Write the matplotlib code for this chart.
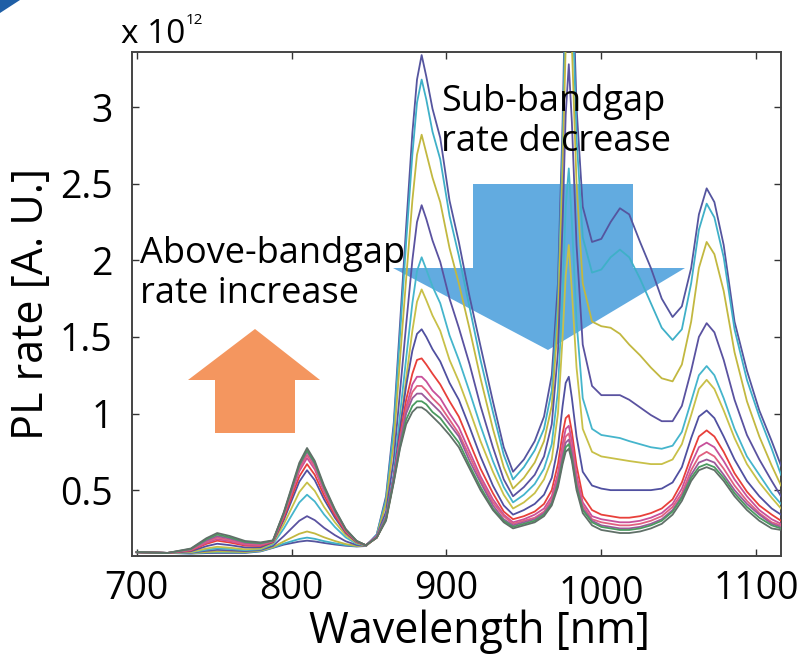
import matplotlib
matplotlib.use("Agg")
import matplotlib.pyplot as plt
from matplotlib.patches import Polygon
from matplotlib.transforms import ScaledTranslation

plt.rcParams['font.family'] = ['Open Sans', 'DejaVu Sans']

# wavelength grid [nm]
wl = [700, 720, 735, 745, 752, 760, 770, 780, 788, 795, 800, 805, 810, 815, 821, 828, 835, 842, 848,
      855, 861, 866, 870, 874, 878, 881, 884, 887, 891, 896, 902, 908, 915, 922, 930, 937, 943,
      950, 957, 963, 968, 972, 975, 977, 979, 981, 984, 988, 994, 1000,
      1006, 1012, 1018, 1025, 1032, 1039, 1046, 1052, 1058, 1063, 1068, 1073, 1079, 1086, 1094, 1102, 1110, 1116]

# PL spectra, units of 1e12, one row per excitation condition
spectra = [
    [.095, .09, .086, .089, .09, .09, .09, .10, .123, .144, .154, .164, .17, .165, .155, .145, .137, .132, .135,
     .21, .46, .94, 1.58, 2.22, 2.83, 3.18, 3.34, 3.20, 2.99, 2.80, 2.39, 2.12, 1.76, 1.44, 1.08, 0.78, 0.62,
     .70, .82, .98, 1.25, 1.85, 2.9, 3.9, 4.5, 4.0, 3.0, 2.35, 2.12, 2.14,
     2.25, 2.34, 2.30, 2.12, 1.95, 1.75, 1.63, 1.70, 1.95, 2.30, 2.47, 2.38, 2.10, 1.60, 1.28, 1.02, 0.82, 0.66],
    [.095, .09, .087, .093, .095, .094, .093, .102, .125, .151, .166, .181, .19, .182, .167, .153, .141, .134, .135,
     .21, .44, .90, 1.51, 2.12, 2.69, 3.03, 3.18, 3.05, 2.84, 2.66, 2.29, 2.03, 1.69, 1.35, 1.01, 0.73, 0.57,
     .65, .76, .90, 1.15, 1.72, 2.75, 3.7, 4.3, 3.8, 2.8, 2.15, 1.92, 1.94,
     2.02, 2.07, 2.02, 1.88, 1.72, 1.56, 1.48, 1.55, 1.85, 2.20, 2.37, 2.28, 2.02, 1.55, 1.22, 0.98, 0.77, 0.60],
    [.095, .09, .089, .096, .10, .099, .096, .105, .128, .165, .19, .215, .23, .217, .192, .168, .148, .136, .135,
     .20, .41, .81, 1.35, 1.88, 2.39, 2.69, 2.82, 2.70, 2.54, 2.38, 2.08, 1.85, 1.55, 1.23, 0.90, 0.65, 0.51,
     .58, .68, .82, 1.05, 1.6, 2.6, 3.4, 3.9, 3.4, 2.5, 1.85, 1.60, 1.57,
     1.56, 1.52, 1.45, 1.38, 1.30, 1.23, 1.21, 1.32, 1.60, 1.95, 2.12, 2.04, 1.80, 1.40, 1.08, 0.85, 0.66, 0.53],
    [.095, .09, .091, .104, .11, .107, .102, .109, .136, .20, .25, .30, .33, .304, .254, .206, .166, .142, .135,
     .20, .36, .70, 1.14, 1.58, 2.00, 2.25, 2.36, 2.27, 2.13, 1.99, 1.75, 1.56, 1.32, 1.05, 0.78, 0.57, 0.46,
     .52, .60, .72, .93, 1.4, 2.25, 2.95, 3.28, 2.9, 2.1, 1.45, 1.18, 1.12,
     1.12, 1.12, 1.09, 1.04, 0.99, 0.95, 0.95, 1.05, 1.28, 1.50, 1.59, 1.53, 1.35, 1.09, 0.86, 0.70, 0.56, 0.46],
    [.095, .09, .094, .111, .12, .116, .108, .114, .147, .249, .334, .419, .47, .426, .341, .259, .191, .15, .138,
     .20, .33, .61, .99, 1.36, 1.72, 1.93, 2.02, 1.94, 1.83, 1.72, 1.51, 1.35, 1.14, 0.92, 0.69, 0.52, 0.42,
     .47, .54, .64, .80, 1.15, 1.8, 2.35, 2.6, 2.25, 1.6, 1.1, 0.90, 0.86,
     0.85, 0.84, 0.82, 0.80, 0.78, 0.77, 0.79, 0.88, 1.08, 1.25, 1.31, 1.25, 1.10, 0.90, 0.72, 0.60, 0.48, 0.41],
    [.095, .09, .096, .119, .13, .124, .114, .118, .154, .277, .382, .487, .55, .495, .39, .29, .206, .155, .138,
     .19, .31, .56, .90, 1.23, 1.54, 1.73, 1.81, 1.74, 1.64, 1.54, 1.35, 1.21, 1.02, 0.82, 0.62, 0.47, 0.38,
     .42, .48, .57, .70, 1.0, 1.5, 1.9, 2.1, 1.8, 1.3, 0.9, 0.75, 0.72,
     0.71, 0.70, 0.69, 0.68, 0.67, 0.67, 0.70, 0.80, 0.99, 1.16, 1.22, 1.16, 1.02, 0.84, 0.67, 0.55, 0.45, 0.38],
    [.095, .09, .101, .134, .15, .141, .126, .127, .16, .305, .43, .555, .63, .565, .44, .32, .22, .16, .14,
     .20, .32, .59, .90, 1.18, 1.41, 1.52, 1.55, 1.50, 1.42, 1.34, 1.20, 1.09, 0.91, 0.72, 0.53, 0.40, 0.34,
     .37, .41, .47, .58, .78, 1.05, 1.2, 1.24, 1.1, 0.85, 0.62, 0.53, 0.51,
     0.50, 0.50, 0.50, 0.50, 0.50, 0.51, 0.55, 0.65, 0.84, 0.98, 1.02, 0.97, 0.85, 0.70, 0.56, 0.46, 0.38, 0.34],
    [.095, .09, .106, .149, .17, .158, .138, .136, .163, .319, .454, .589, .67, .60, .465, .335, .227, .162, .14,
     .19, .31, .57, .85, 1.09, 1.26, 1.35, 1.36, 1.32, 1.26, 1.19, 1.08, 0.98, 0.81, 0.64, 0.48, 0.36, 0.31,
     .33, .36, .41, .50, .67, .87, .97, .99, .88, .66, .46, .37, .34,
     0.33, 0.32, 0.32, 0.33, 0.35, 0.38, 0.44, 0.55, 0.72, 0.85, 0.89, 0.85, 0.75, 0.61, 0.49, 0.40, 0.34, 0.30],
    [.095, .09, .109, .156, .18, .167, .144, .14, .166, .333, .478, .623, .71, .635, .49, .35, .234, .165, .14,
     .20, .32, .58, .83, 1.04, 1.19, 1.24, 1.24, 1.21, 1.15, 1.10, 1.00, 0.91, 0.75, 0.59, 0.44, 0.34, 0.29,
     .31, .34, .38, .46, .61, .80, .90, .92, .82, .60, .42, .33, .31,
     0.30, 0.29, 0.29, 0.30, 0.32, 0.35, 0.41, 0.51, 0.67, 0.78, 0.81, 0.78, 0.69, 0.57, 0.46, 0.37, 0.31, 0.28],
    [.095, .09, .111, .164, .19, .175, .15, .145, .168, .34, .49, .64, .73, .652, .502, .358, .238, .166, .14,
     .19, .32, .58, .83, 1.02, 1.14, 1.18, 1.18, 1.15, 1.10, 1.05, 0.96, 0.87, 0.72, 0.57, 0.42, 0.33, 0.28,
     .30, .32, .36, .44, .58, .76, .85, .87, .77, .57, .40, .31, .29,
     0.28, 0.27, 0.27, 0.28, 0.30, 0.33, 0.39, 0.48, 0.63, 0.72, 0.75, 0.72, 0.64, 0.53, 0.43, 0.35, 0.29, 0.27],
    [.095, .09, .114, .171, .20, .184, .156, .15, .17, .347, .502, .657, .75, .669, .514, .366, .242, .167, .14,
     .19, .32, .58, .81, 1.00, 1.10, 1.13, 1.13, 1.10, 1.06, 1.01, 0.93, 0.85, 0.69, 0.55, 0.40, 0.31, 0.27,
     .29, .31, .35, .42, .56, .72, .81, .83, .74, .54, .38, .30, .27,
     0.26, 0.25, 0.25, 0.26, 0.28, 0.31, 0.37, 0.46, 0.60, 0.68, 0.70, 0.68, 0.60, 0.50, 0.41, 0.34, 0.28, 0.26],
    [.095, .09, .116, .179, .21, .192, .162, .154, .17, .35, .508, .665, .76, .678, .52, .369, .243, .168, .14,
     .19, .31, .56, .78, .96, 1.05, 1.08, 1.08, 1.06, 1.01, 0.97, 0.89, 0.81, 0.66, 0.52, 0.38, 0.30, 0.26,
     .28, .30, .34, .41, .54, .69, .78, .80, .71, .52, .37, .29, .26,
     0.25, 0.24, 0.24, 0.25, 0.27, 0.30, 0.36, 0.45, 0.58, 0.65, 0.67, 0.65, 0.58, 0.48, 0.39, 0.32, 0.27, 0.25],
    [.095, .09, .119, .186, .22, .201, .168, .159, .172, .356, .517, .678, .775, .691, .53, .375, .246, .169, .14,
     .19, .30, .55, .77, .93, 1.01, 1.04, 1.04, 1.02, 0.98, 0.93, 0.86, 0.78, 0.64, 0.50, 0.37, 0.29, 0.25,
     .27, .29, .33, .40, .52, .67, .75, .77, .69, .50, .35, .27, .24,
     0.23, 0.22, 0.22, 0.23, 0.25, 0.28, 0.34, 0.43, 0.56, 0.63, 0.65, 0.63, 0.56, 0.46, 0.37, 0.30, 0.25, 0.24],
]

colors = ['#55559f', '#3fb0c8', '#c2b840', '#5a52a0', '#45b5cc', '#c8c048', '#5050a0',
          '#e8403a', '#c8509a', '#e06080', '#9a5a9a', '#4a9a60', '#607068']

xticks = [700, 800, 900, 1000, 1100]
yticks = [0.5, 1, 1.5, 2, 2.5, 3]
ytick_labels = ['0.5', '1', '1.5', '2', '2.5', '3']

W, H = 811, 663
fig = plt.figure(figsize=(W / 100, H / 100), dpi=100)
ax = fig.add_axes([132 / W, 1 - 556 / H, (781 - 132) / W, (556 - 52) / H])

for row, c in zip(spectra, colors):
    ax.plot(wl, row, color=c, lw=1.3, zorder=3)

ax.set_xlim(697, 1116)
ax.set_ylim(0.07, 3.36)
ax.set_xticks(xticks)
ax.set_yticks(yticks)
ax.set_yticklabels(ytick_labels)
ax.tick_params(direction='in', length=5, width=1, top=True, right=True,
               labelsize=27, colors='#333333', labelcolor='black')
ax.tick_params(axis='x', pad=10)
ax.tick_params(axis='y', pad=14)
for s in ax.spines.values():
    s.set_color('#444444')
    s.set_linewidth(1.4)

# the 1000 label sits a little lower than the others
for lab in ax.get_xticklabels():
    if lab.get_text() == '1000':
        lab.set_transform(lab.get_transform() + ScaledTranslation(0, -5 / 100, fig.dpi_scale_trans))

ax.set_xlabel('Wavelength [nm]', fontsize=31, va='baseline')
ax.xaxis.set_label_coords(0.535, -(643 - 556) / 504)
ax.set_ylabel('PL rate [A. U.]', fontsize=31, labelpad=4)

# axis multiplier
fig.text(121 / W, 1 - 43 / H, 'x 10', fontsize=24, va='baseline', ha='left')
fig.text(186 / W, 1 - 24 / H, '12', fontsize=11, va='baseline', ha='left')


def px(x, y):
    return ((x - 132) / 649, (556 - y) / 504)


up_arrow = [(255, 329), (320, 380), (295, 380), (295, 433), (215, 433), (215, 380), (188, 380)]
ax.add_patch(Polygon([px(*p) for p in up_arrow], closed=True, transform=ax.transAxes,
                     facecolor='#f4965f', edgecolor='none', zorder=2))
down_arrow = [(473, 184), (633, 184), (633, 268), (685, 268), (548, 350), (393, 268), (473, 268)]
ax.add_patch(Polygon([px(*p) for p in down_arrow], closed=True, transform=ax.transAxes,
                     facecolor='#62abe0', edgecolor='none', zorder=2))

ax.text(*px(140, 236), 'Above-bandgap\nrate increase', transform=ax.transAxes,
        fontsize=26, va='top', ha='left', linespacing=1.15, zorder=4)
ax.text(*px(441, 84), 'Sub-bandgap\nrate decrease', transform=ax.transAxes,
        fontsize=26, va='top', ha='left', linespacing=1.15, zorder=4)

# corner tab
fig.patches.append(Polygon([(0, 1), (20 / W, 1), (0, 1 - 13 / H)], closed=True,
                           transform=fig.transFigure, facecolor='#1f5fa6', edgecolor='none'))

fig.savefig('out.png', dpi=100)
